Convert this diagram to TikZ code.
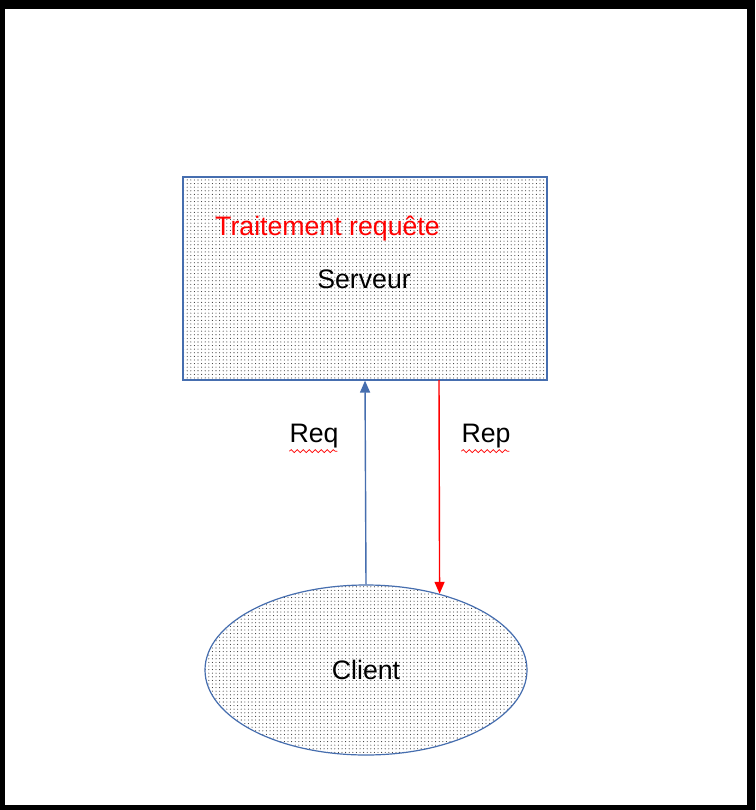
\documentclass[tikz,border=0pt]{standalone}
\usepackage{fontspec}
\setmainfont{Liberation Sans}
\usetikzlibrary{shapes.geometric,patterns.meta,arrows.meta,decorations.pathmorphing}
\definecolor{shapeblue}{RGB}{70,110,175}
\tikzset{
  dotfill/.style={pattern={Dots[distance=3.6pt,radius=0.55pt]},pattern color=black!80},
  boxshape/.style={draw=shapeblue,line width=1.2pt,dotfill,minimum width=364pt,minimum height=203pt,inner sep=0pt},
  ellshape/.style={ellipse,draw=shapeblue,line width=1.2pt,dotfill,minimum width=322pt,minimum height=170pt,inner sep=0pt,font=\fontsize{26.7}{30}\selectfont},
  lbl/.style={font=\fontsize{26.7}{30}\selectfont,inner sep=0pt},
  squig/.style={draw=red,line width=0.7pt,decorate,decoration={snake,segment length=6pt,amplitude=1.5pt}},
  tip/.style={-{Triangle[length=12pt,width=10pt]},line width=1.4pt}
}
\begin{document}
\begin{tikzpicture}[x=1pt,y=-1pt]
\useasboundingbox (0,0) rectangle (755,810);
\fill[black] (0,0) rectangle (755,810);
\fill[white] (5,9) rectangle (747,805);
\node[boxshape] (srv) at (365,278.5) {};
\node[ellshape] (cli) at (366,670) {Client};
\node[lbl,text=red,anchor=west] (trt) at (215,229) {Traitement requête};
\node[lbl] (srvl) at (364,279) {Serveur};
\node[lbl] (req) at (314,436) {Req};
\node[lbl] (rep) at (486,436) {Rep};
\coordinate (rtop) at (439,380);
\draw[tip,draw=shapeblue,fill=shapeblue] (cli.north) -- (srv.south);
\draw[tip,draw=red,fill=red] (rtop) -- (cli.46);
\draw[squig] (req.south west) ++(0,3) -- ++(48,0);
\draw[squig] (rep.south west) ++(0,3) -- ++(48,0);
\end{tikzpicture}
\end{document}
